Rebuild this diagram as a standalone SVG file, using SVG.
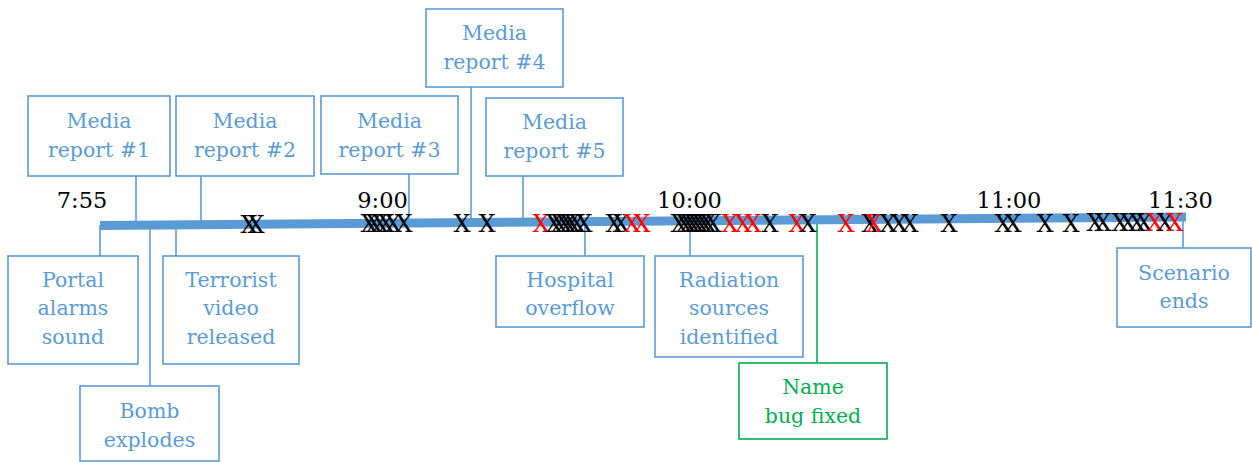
<svg xmlns="http://www.w3.org/2000/svg" width="1252" height="462" viewBox="0 0 1252 462">
<style>
text{font-family:'DejaVu Serif','Liberation Serif',serif;text-anchor:middle}
.bg{fill:#ffffff}
.box{fill:#ffffff;stroke:#5b9bd5;stroke-width:1.6}
.gbox{fill:#ffffff;stroke:#00b050;stroke-width:1.6}
.lbl{font-size:20.5px;fill:#5b9bd5}
.glbl{font-size:20.5px;fill:#00b050}
.time{font-size:22.5px;fill:#000000}
.conn{stroke:#5b9bd5;stroke-width:1.6;fill:none}
.gconn{stroke:#00b050;stroke-width:1.6;fill:none}
.tl{stroke:#5b9bd5;stroke-width:9;fill:none}
.x{font-size:24px;fill:#000000}
.xr{font-size:24px;fill:#ff0000}
</style>
<rect class="bg" x="0" y="0" width="1252" height="462"/>

<g id="connectors">
<line class="conn" x1="136" y1="176" x2="136" y2="222"/>
<line class="conn" x1="201" y1="176" x2="201" y2="222"/>
<line class="conn" x1="409" y1="174" x2="409" y2="220"/>
<line class="conn" x1="471" y1="87" x2="471" y2="220"/>
<line class="conn" x1="523" y1="176" x2="523" y2="219"/>
<line class="conn" x1="100" y1="225" x2="100" y2="256"/>
<line class="conn" x1="150" y1="225" x2="150" y2="386"/>
<line class="conn" x1="176" y1="225" x2="176" y2="256"/>
<line class="conn" x1="585" y1="222" x2="585" y2="256"/>
<line class="conn" x1="690" y1="221" x2="690" y2="256"/>
<line class="gconn" x1="817" y1="220" x2="817" y2="363"/>
<line class="conn" x1="1183" y1="217" x2="1183" y2="248"/>
</g>

<g id="timeline">
<line class="tl" x1="100" y1="225.5" x2="1186" y2="217"/>
</g>

<g id="times">
<text class="time" x="82" y="208">7:55</text>
<text class="time" x="382.5" y="208">9:00</text>
<text class="time" x="689.5" y="208">10:00</text>
<text class="time" x="1009" y="208">11:00</text>
<text class="time" x="1180.5" y="208">11:30</text>
</g>

<g id="marks">
<text class="x" x="249" y="233">X</text>
<text class="x" x="256" y="233">X</text>
<text class="x" x="369" y="232">X</text>
<text class="x" x="374" y="232">X</text>
<text class="x" x="380" y="232">X</text>
<text class="x" x="386" y="232">X</text>
<text class="x" x="393" y="232">X</text>
<text class="x" x="404" y="232">X</text>
<text class="x" x="462" y="232">X</text>
<text class="x" x="487" y="232">X</text>
<text class="xr" x="541" y="232">X</text>
<text class="x" x="554" y="232">X</text>
<text class="x" x="559" y="232">X</text>
<text class="x" x="564" y="232">X</text>
<text class="x" x="568" y="232">X</text>
<text class="x" x="572" y="232">X</text>
<text class="x" x="577" y="232">X</text>
<text class="x" x="584" y="232">X</text>
<text class="x" x="614" y="232">X</text>
<text class="x" x="621" y="232">X</text>
<text class="xr" x="632" y="232">X</text>
<text class="xr" x="642" y="232">X</text>
<text class="x" x="679" y="232">X</text>
<text class="x" x="684" y="232">X</text>
<text class="x" x="688" y="232">X</text>
<text class="x" x="692" y="232">X</text>
<text class="x" x="696" y="232">X</text>
<text class="x" x="700" y="232">X</text>
<text class="x" x="704" y="232">X</text>
<text class="x" x="708" y="232">X</text>
<text class="x" x="713" y="232">X</text>
<text class="xr" x="730" y="232">X</text>
<text class="xr" x="743" y="232">X</text>
<text class="xr" x="753" y="232">X</text>
<text class="x" x="770" y="232">X</text>
<text class="xr" x="797" y="232">X</text>
<text class="x" x="808" y="232">X</text>
<text class="xr" x="846" y="232">X</text>
<text class="x" x="870" y="232">X</text>
<text class="xr" x="874" y="232">X</text>
<text class="x" x="888" y="232">X</text>
<text class="x" x="899" y="232">X</text>
<text class="x" x="910" y="232">X</text>
<text class="x" x="949" y="232">X</text>
<text class="x" x="1003" y="232">X</text>
<text class="x" x="1013" y="232">X</text>
<text class="x" x="1045" y="232">X</text>
<text class="x" x="1071" y="232">X</text>
<text class="x" x="1095" y="231">X</text>
<text class="x" x="1103" y="231">X</text>
<text class="x" x="1120" y="231">X</text>
<text class="x" x="1128" y="231">X</text>
<text class="x" x="1137" y="231">X</text>
<text class="x" x="1144" y="231">X</text>
<text class="xr" x="1155" y="231">X</text>
<text class="x" x="1165" y="231">X</text>
<text class="xr" x="1175" y="231">X</text>
</g>

<g id="media1">
<rect class="box" x="28" y="96" width="142" height="80"/>
<text class="lbl" x="99" y="128">Media</text>
<text class="lbl" x="99" y="157">report #1</text>
</g>
<g id="media2">
<rect class="box" x="176" y="96" width="138" height="80"/>
<text class="lbl" x="245" y="128">Media</text>
<text class="lbl" x="245" y="157">report #2</text>
</g>
<g id="media3">
<rect class="box" x="321" y="96" width="137" height="78"/>
<text class="lbl" x="389.5" y="128">Media</text>
<text class="lbl" x="389.5" y="157">report #3</text>
</g>
<g id="media4">
<rect class="box" x="426" y="9" width="137" height="78"/>
<text class="lbl" x="494.5" y="40">Media</text>
<text class="lbl" x="494.5" y="69">report #4</text>
</g>
<g id="media5">
<rect class="box" x="486" y="98" width="137" height="78"/>
<text class="lbl" x="554.5" y="129">Media</text>
<text class="lbl" x="554.5" y="158">report #5</text>
</g>
<g id="portal">
<rect class="box" x="8" y="256" width="130" height="108"/>
<text class="lbl" x="73" y="287">Portal</text>
<text class="lbl" x="73" y="315">alarms</text>
<text class="lbl" x="73" y="344">sound</text>
</g>
<g id="terrorist">
<rect class="box" x="163" y="256" width="136" height="108"/>
<text class="lbl" x="231" y="287">Terrorist</text>
<text class="lbl" x="231" y="315">video</text>
<text class="lbl" x="231" y="344">released</text>
</g>
<g id="bomb">
<rect class="box" x="80" y="386" width="139" height="75"/>
<text class="lbl" x="149.5" y="418">Bomb</text>
<text class="lbl" x="149.5" y="447">explodes</text>
</g>
<g id="hospital">
<rect class="box" x="496" y="256" width="148" height="71"/>
<text class="lbl" x="570" y="287">Hospital</text>
<text class="lbl" x="570" y="315">overflow</text>
</g>
<g id="radiation">
<rect class="box" x="655" y="256" width="148" height="101"/>
<text class="lbl" x="729" y="287">Radiation</text>
<text class="lbl" x="729" y="315">sources</text>
<text class="lbl" x="729" y="344">identified</text>
</g>
<g id="namebug">
<rect class="gbox" x="739" y="363" width="148" height="76"/>
<text class="glbl" x="813" y="394">Name</text>
<text class="glbl" x="813" y="423">bug fixed</text>
</g>
<g id="scenario">
<rect class="box" x="1117" y="248" width="134" height="79"/>
<text class="lbl" x="1184" y="280">Scenario</text>
<text class="lbl" x="1184" y="308">ends</text>
</g>
</svg>
